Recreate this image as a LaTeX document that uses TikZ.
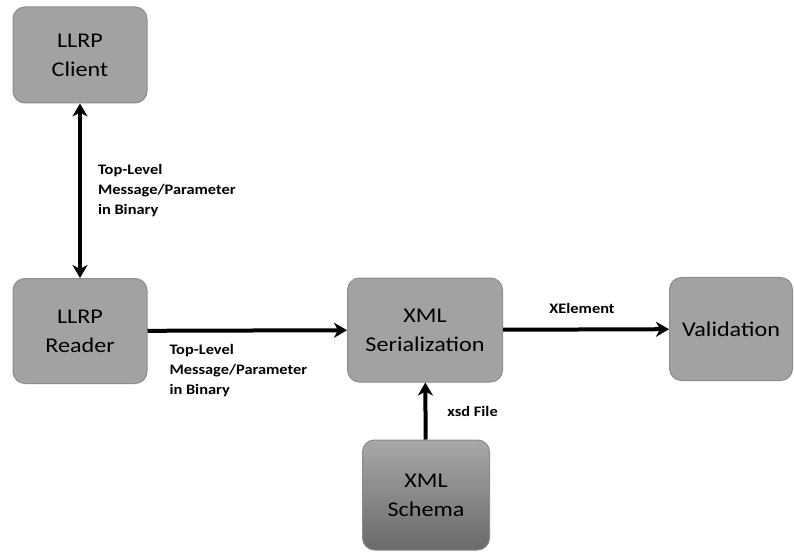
\documentclass[tikz,border=0pt]{standalone}
\usepackage{fontspec}
\setmainfont{Carlito}
\usetikzlibrary{arrows.meta}
\definecolor{boxgray}{HTML}{A2A2A2}
\definecolor{boxline}{HTML}{8C8C8C}
\definecolor{schematop}{HTML}{A8A8A8}
\definecolor{schemabot}{HTML}{6A6A6A}
\tikzset{>={Stealth[length=13pt,width=15pt,inset=4pt]}}
\tikzset{
  block/.style={draw=boxline,line width=1pt,fill=boxgray,rounded corners=12pt,
    align=center,font=\addfontfeature{FakeStretch=1.15}\fontsize{21}{29}\selectfont,inner sep=0pt},
  flow/.style={line width=4pt,->},
  tag/.style={font=\bfseries\addfontfeature{FakeStretch=1.13}\fontsize{14.5}{20}\selectfont,
    align=left,inner sep=0pt}
}

\begin{document}
\begin{tikzpicture}[x=1pt,y=1pt]
  \useasboundingbox (0,0) rectangle (794,552);
  \node[block,minimum width=134pt,minimum height=96pt]  (client) at (80,497) {LLRP\\Client};
  \node[block,minimum width=134pt,minimum height=105pt] (reader) at (80,221) {LLRP\\Reader};
  \node[block,minimum width=155pt,minimum height=104pt] (serial) at (425,222) {XML\\Serialization};
  \node[block,minimum width=123pt,minimum height=103pt] (valid)  at (731,223) {Validation};
  \node[block,top color=schematop,bottom color=schemabot,
        minimum width=127pt,minimum height=110pt]        (schema) at (426,57) {XML\\Schema};
  \draw[flow,<->] (client) -- (reader)
    node[tag,midway,right=16pt] {Top-Level\\Message/Parameter\\in Binary};
  \draw[flow] (reader) -- (serial)
    node[tag,pos=0,below right,xshift=20pt,yshift=-12pt] {Top-Level\\Message/Parameter\\in Binary};
  \draw[flow] (serial) -- (valid) node[tag,midway,above=14pt,xshift=-4pt] {XElement};
  \draw[flow] (schema) -- (serial) node[tag,midway,right=20pt] {xsd File};
\end{tikzpicture}
\end{document}
